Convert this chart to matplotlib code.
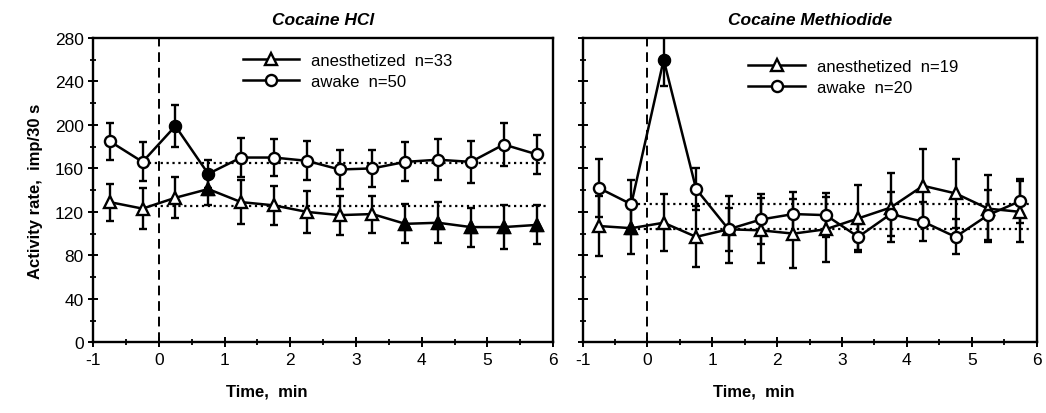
import matplotlib.pyplot as plt
import numpy as np

plt.rcParams['font.family'] = ['Liberation Sans', 'DejaVu Sans']
plt.rcParams['axes.unicode_minus'] = False

# time bins (min), 30 s bins
t = [-0.75, -0.25, 0.25, 0.75, 1.25, 1.75, 2.25, 2.75, 3.25, 3.75, 4.25, 4.75, 5.25, 5.75]

# Cocaine HCl
hcl_awake = [185, 166, 199, 155, 170, 170, 167, 159, 160, 166, 168, 166, 182, 173]
hcl_awake_err = [17, 18, 19, 13, 18, 17, 18, 18, 17, 18, 19, 19, 20, 18]
hcl_awake_filled = [0, 0, 1, 1, 0, 0, 0, 0, 0, 0, 0, 0, 0, 0]
hcl_anest = [129, 123, 133, 141, 129, 126, 120, 117, 118, 109, 110, 106, 106, 108]
hcl_anest_err = [17, 19, 19, 15, 20, 18, 19, 18, 17, 18, 19, 18, 20, 18]
hcl_anest_filled = [0, 0, 0, 1, 0, 0, 0, 0, 0, 1, 1, 1, 1, 1]
hcl_base = [165, 125]

# Cocaine methiodide
met_awake = [142, 127, 260, 141, 104, 113, 118, 117, 97, 118, 111, 97, 117, 130]
met_awake_err = [27, 22, 24, 19, 20, 23, 20, 20, 12, 20, 18, 16, 23, 20]
met_awake_filled = [0, 0, 1, 0, 0, 0, 0, 0, 0, 0, 0, 0, 0, 0]
met_anest = [107, 105, 110, 97, 104, 103, 100, 104, 114, 124, 144, 137, 123, 120]
met_anest_err = [28, 24, 26, 28, 31, 30, 32, 30, 31, 32, 34, 32, 31, 28]
met_anest_filled = [0, 1, 0, 0, 0, 0, 0, 0, 0, 0, 0, 0, 0, 0]
met_base = [127, 104]

fig = plt.figure(figsize=(10.46, 4.14), dpi=100)
ax1 = fig.add_axes([0.0892, 0.1708, 0.4395, 0.735])
ax2 = fig.add_axes([0.557, 0.1708, 0.434, 0.735])


def draw(ax, y, err, filled, marker, label):
    ax.errorbar(t, y, yerr=err, fmt='none', ecolor='black', elinewidth=1.7,
                capsize=3, capthick=1.7, zorder=2)
    ax.plot(t, y, color='black', lw=1.8, marker=marker, ms=8, mfc='white',
            mec='black', mew=1.7, label=label, zorder=3)
    tf = [a for a, f in zip(t, filled) if f]
    yf = [b for b, f in zip(y, filled) if f]
    ax.plot(tf, yf, ls='none', marker=marker, ms=8, mfc='black', mec='black', zorder=4)


def setup(ax, title, base, leg_x, leg_y, labels):
    draw(ax, labels[0][0], labels[0][1], labels[0][2], '^', labels[0][3])
    draw(ax, labels[1][0], labels[1][1], labels[1][2], 'o', labels[1][3])
    for b in base:
        ax.hlines(b, -0.24, 5.93, colors='black', linestyles=':', lw=1.6, zorder=1)
    ax.axvline(0, color='black', lw=1.4, ls=(0, (5, 3)), zorder=1)
    ax.set_xlim(-1, 6)
    ax.set_ylim(0, 280)
    ax.set_xticks(np.arange(-1, 7, 1))
    ax.set_xticks(np.arange(-1, 6.5, 0.5), minor=True)
    ax.set_yticks(np.arange(0, 281, 40))
    ax.set_yticks(np.arange(0, 281, 20), minor=True)
    ax.tick_params(which='major', direction='inout', length=7, width=1.4, labelsize=12.5)
    ax.tick_params(which='minor', direction='inout', length=4, width=1.3)
    ax.tick_params(axis='x', which='both', top=False)
    ax.tick_params(axis='y', which='both', right=False)
    for s in ax.spines.values():
        s.set_linewidth(1.7)
    ax.set_title(title, fontsize=12.5, fontweight='bold', style='italic', pad=10)
    ax.set_xlabel('Time,  min', fontsize=12, fontweight='bold', x=0.377, labelpad=12)
    ax.legend(loc='upper left', bbox_to_anchor=(leg_x, leg_y), frameon=False,
              fontsize=12, handlelength=3.4, handletextpad=0.7, labelspacing=0.35,
              borderpad=0, borderaxespad=0)


setup(ax1, 'Cocaine HCl', hcl_base, 0.325, 0.95,
      [(hcl_anest, hcl_anest_err, hcl_anest_filled, 'anesthetized  n=33'),
       (hcl_awake, hcl_awake_err, hcl_awake_filled, 'awake  n=50')])
setup(ax2, 'Cocaine Methiodide', met_base, 0.365, 0.93,
      [(met_anest, met_anest_err, met_anest_filled, 'anesthetized  n=19'),
       (met_awake, met_awake_err, met_awake_filled, 'awake  n=20')])

ax1.set_ylabel('Activity rate,  imp/30 s', fontsize=12, fontweight='bold', labelpad=8)
ax2.tick_params(axis='y', labelleft=False)

fig.savefig('out.png', dpi=100, facecolor='white')
